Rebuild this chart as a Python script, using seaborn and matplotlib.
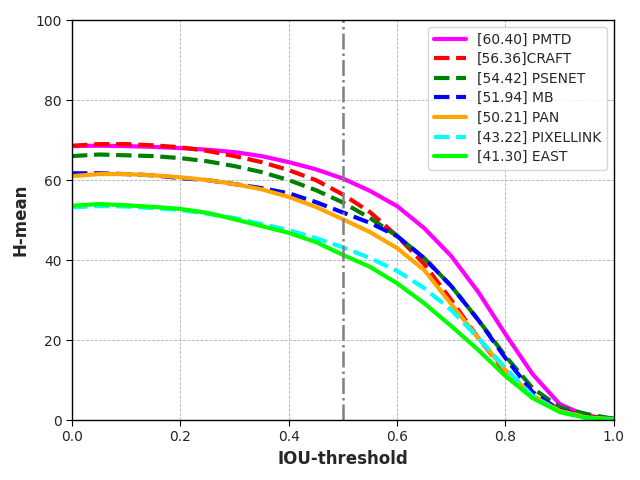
import numpy as np
import pandas as pd
import matplotlib
matplotlib.use('Agg')
import matplotlib.pyplot as plt
import seaborn as sns

# IOU thresholds and H-mean curves
iou = [0.0, 0.05, 0.1, 0.15, 0.2, 0.25, 0.3, 0.35, 0.4, 0.45, 0.5,
       0.55, 0.6, 0.65, 0.7, 0.75, 0.8, 0.85, 0.9, 0.95, 1.0]

pmtd = [68.5, 68.6, 68.5, 68.3, 68.0, 67.6, 67.0, 66.0, 64.5, 62.7, 60.4,
        57.3, 53.5, 48.0, 41.0, 32.0, 21.5, 11.5, 4.0, 1.0, 0.3]
craft = [68.6, 69.0, 69.0, 68.7, 68.2, 67.3, 66.0, 64.5, 62.5, 60.0, 56.4,
         52.0, 46.0, 39.0, 30.0, 20.5, 12.0, 6.0, 2.5, 1.0, 0.3]
psenet = [66.0, 66.4, 66.2, 66.0, 65.5, 64.7, 63.5, 62.0, 60.0, 57.5, 54.4,
          50.5, 46.0, 40.5, 33.5, 25.0, 16.0, 8.0, 3.2, 1.5, 0.3]
mb = [61.7, 61.7, 61.5, 61.2, 60.5, 60.0, 59.0, 58.0, 56.7, 54.5, 51.9,
      49.3, 46.0, 40.5, 33.5, 25.0, 15.5, 7.0, 2.5, 0.8, 0.2]
pan = [61.0, 61.5, 61.5, 61.2, 60.7, 60.0, 59.0, 57.7, 55.8, 53.3, 50.2,
       47.0, 43.0, 37.5, 29.0, 20.5, 12.5, 6.0, 2.3, 0.7, 0.2]
pixellink = [53.2, 53.5, 53.4, 53.0, 52.5, 51.6, 50.5, 49.0, 47.5, 45.5, 43.2,
             40.5, 37.3, 33.0, 27.5, 20.5, 13.0, 6.0, 2.0, 0.5, 0.2]
east = [53.6, 54.0, 53.7, 53.3, 52.8, 51.8, 50.2, 48.5, 46.8, 44.5, 41.3,
        38.3, 34.2, 29.2, 23.5, 17.5, 11.0, 5.5, 2.0, 0.5, 0.1]

labels = ['[60.40] PMTD', '[56.36]CRAFT', '[54.42] PSENET', '[51.94] MB',
          '[50.21] PAN', '[43.22] PIXELLINK', '[41.30] EAST']
curves = [pmtd, craft, psenet, mb, pan, pixellink, east]
colors = ['#ff00ff', '#ff0000', '#008000', '#0000ff', '#ffa500', '#00ffff', '#00ff00']
styles = ['-', '--', '--', '--', '-', '--', '-']

sns.set_style('ticks')
fig, ax = plt.subplots(figsize=(6.4, 4.8), dpi=100)
fig.subplots_adjust(left=0.1125, right=0.959, bottom=0.125, top=0.958)

for lab, ys, c, ls in zip(labels, curves, colors, styles):
    sns.lineplot(x=iou, y=ys, color=c, linestyle=ls, lw=3, label=lab, ax=ax)

ax.axvline(0.5, color='gray', linestyle='-.', lw=1.8)

ax.set_xlim(0, 1)
ax.set_ylim(0, 100)
ax.set_xticks(np.arange(0, 1.01, 0.2))
ax.set_yticks(np.arange(0, 101, 20))
ax.grid(True, linestyle='--', color='#b0b0b0', lw=0.6)
ax.set_xlabel('IOU-threshold', fontsize=12, fontweight='bold')
ax.set_ylabel('H-mean', fontsize=12, fontweight='bold')
ax.tick_params(labelsize=10, direction='out', length=4, color='black')
for s in ax.spines.values():
    s.set_color('black')
    s.set_linewidth(1)

ax.legend(loc='upper right', fontsize=10, framealpha=0.8, handlelength=2.3,
          labelspacing=0.4)

plt.savefig('out.png', dpi=100)
